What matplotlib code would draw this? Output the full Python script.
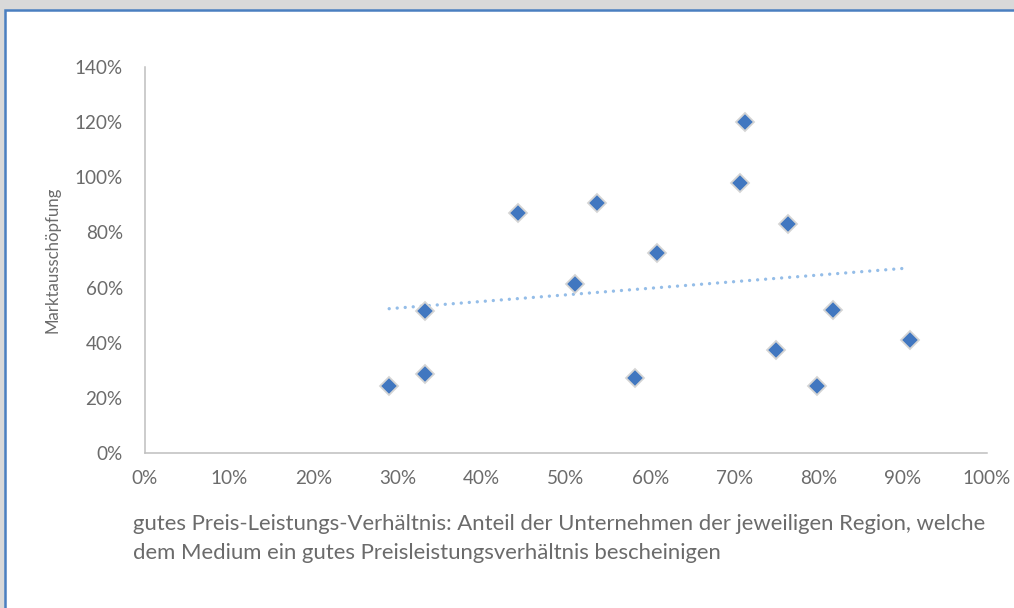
import numpy as np
import matplotlib
matplotlib.use("Agg")
import matplotlib.pyplot as plt
from matplotlib.patches import Rectangle
from matplotlib.ticker import FuncFormatter, MultipleLocator

# Share of companies per region rating the medium's price/performance as good
preis_leistung = [0.290, 0.332, 0.332, 0.443, 0.511, 0.537, 0.608, 0.582,
                  0.713, 0.707, 0.764, 0.749, 0.817, 0.798, 0.908]
# Market exhaustion per region
marktausschoepfung = [0.244, 0.516, 0.287, 0.869, 0.613, 0.906, 0.724, 0.271,
                      1.199, 0.978, 0.831, 0.374, 0.519, 0.243, 0.411]

x_label_lines = [
    "gutes Preis-Leistungs-Verhältnis: Anteil der Unternehmen der jeweiligen Region, welche",
    "dem Medium ein gutes Preisleistungsverhältnis bescheinigen",
]
y_label = "Marktausschöpfung"

W, H, DPI = 1014, 608, 100
TEXT = "#6b6b6b"
FONT = ["Lato", "DejaVu Sans"]
plt.rcParams["font.family"] = FONT

fig = plt.figure(figsize=(W / DPI, H / DPI), dpi=DPI, facecolor="#d9d9d9")

# white chart area with blue frame
fig.patches.append(Rectangle((5 / W, -0.1), 1.2, 1 - 10 / H + 0.1,
                             transform=fig.transFigure, facecolor="white",
                             edgecolor="#4a7fc0", linewidth=1.8, zorder=-1))

ax = fig.add_axes([145 / W, 1 - 453 / H, (987 - 145) / W, (453 - 67) / H])
ax.set_zorder(1)
ax.set_facecolor("none")
ax.set_xlim(0, 1.0)
ax.set_ylim(0, 1.4)
ax.xaxis.set_major_locator(MultipleLocator(0.1))
ax.yaxis.set_major_locator(MultipleLocator(0.2))
pct = FuncFormatter(lambda v, _: f"{v * 100:.0f}%")
ax.xaxis.set_major_formatter(pct)
ax.yaxis.set_major_formatter(pct)
ax.tick_params(axis="both", length=0, labelsize=13.6, labelcolor=TEXT)
ax.tick_params(axis="x", pad=12)
ax.tick_params(axis="y", pad=16)
for side in ("top", "right"):
    ax.spines[side].set_visible(False)
for side in ("left", "bottom"):
    ax.spines[side].set_color("#bfbfbf")
    ax.spines[side].set_linewidth(1.1)

# linear trend line over the data range
xs = np.array(preis_leistung)
ys = np.array(marktausschoepfung)
slope, intercept = np.polyfit(xs, ys, 1)
tx = np.array([xs.min(), xs.max()])
ax.plot(tx, slope * tx + intercept, color="#94bde8", linewidth=2.4,
        linestyle=(0, (0.01, 2.4)), dash_capstyle="round", zorder=2)

ax.plot(xs, ys, linestyle="none", marker="D", markersize=9.2,
        markerfacecolor="#4177c0", markeredgecolor="#d4d4d4",
        markeredgewidth=1.3, zorder=3, clip_on=False)

fig.text(53 / W, 1 - 260 / H, y_label, rotation=90, ha="center", va="center",
         fontsize=12.1, color=TEXT)
fig.text(133 / W, 1 - 530 / H, x_label_lines[0], ha="left", va="baseline",
         fontsize=15.95, color=TEXT)
fig.text(133 / W, 1 - 559 / H, x_label_lines[1], ha="left", va="baseline",
         fontsize=15.95, color=TEXT)

fig.savefig("out.png", dpi=DPI, facecolor=fig.get_facecolor())
